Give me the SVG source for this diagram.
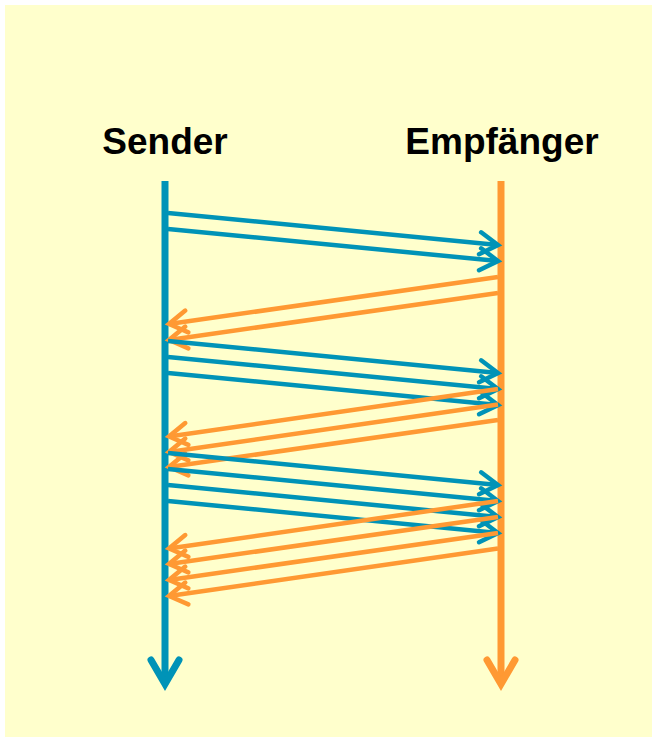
<svg xmlns="http://www.w3.org/2000/svg" width="652" height="737" viewBox="0 0 652 737">
<style>
.lbl{font-family:"Liberation Sans",Arial,sans-serif;font-weight:bold;font-size:37px;fill:#000;text-anchor:middle}
.b{stroke:#0093B7;stroke-width:4.5;fill:none}
.o{stroke:#FF9933;stroke-width:4.5;fill:none}
.ab{marker-end:url(#mb)}
.ao{marker-end:url(#mo)}
</style>
<defs>
<marker id="mb" markerUnits="userSpaceOnUse" orient="auto" viewBox="-30 -20 40 40" refX="0" refY="0" markerWidth="40" markerHeight="40" overflow="visible">
<path d="M-18,-11 L0,0 L-18,11" fill="none" stroke="#0093B7" stroke-width="4.5" stroke-linecap="round" stroke-linejoin="miter"/>
</marker>
<marker id="mo" markerUnits="userSpaceOnUse" orient="auto" viewBox="-30 -20 40 40" refX="0" refY="0" markerWidth="40" markerHeight="40" overflow="visible">
<path d="M-18,-11 L0,0 L-18,11" fill="none" stroke="#FF9933" stroke-width="4.5" stroke-linecap="round" stroke-linejoin="miter"/>
</marker>
</defs>
<rect x="5" y="5" width="647" height="732" fill="#FFFFCC"/>
<g id="sender">
<text class="lbl" x="165" y="154">Sender</text>
<line x1="165" y1="181" x2="165" y2="684" stroke="#0093B7" stroke-width="7"/>
<polyline points="151,660 165,684 179,660" fill="none" stroke="#0093B7" stroke-width="7" stroke-linecap="round" stroke-linejoin="miter"/>
</g>
<g id="empfaenger">
<text class="lbl" x="502" y="154">Empfänger</text>
<line x1="501" y1="181" x2="501" y2="684" stroke="#FF9933" stroke-width="7"/>
<polyline points="487,660 501,684 515,660" fill="none" stroke="#FF9933" stroke-width="7" stroke-linecap="round" stroke-linejoin="miter"/>
</g>
<g id="connectors">
<line class="b ab" x1="168" y1="213" x2="498" y2="245"/>
<line class="b ab" x1="168" y1="229" x2="498" y2="261"/>
<line class="o ao" x1="498" y1="277" x2="169" y2="324"/>
<line class="o ao" x1="498" y1="293" x2="169" y2="340"/>
<line class="b ab" x1="168" y1="341" x2="498" y2="373"/>
<line class="b ab" x1="168" y1="357" x2="498" y2="389"/>
<line class="b ab" x1="168" y1="373" x2="498" y2="405"/>
<line class="o ao" x1="498" y1="389" x2="169" y2="436.5"/>
<line class="o ao" x1="498" y1="404.5" x2="169" y2="452"/>
<line class="o ao" x1="498" y1="420" x2="169" y2="467"/>
<line class="b ab" x1="168" y1="453" x2="498" y2="485"/>
<line class="b ab" x1="168" y1="469" x2="498" y2="501"/>
<line class="b ab" x1="168" y1="485" x2="498" y2="517"/>
<line class="b ab" x1="168" y1="501" x2="498" y2="533"/>
<line class="o ao" x1="498" y1="501" x2="169" y2="548.5"/>
<line class="o ao" x1="498" y1="517" x2="169" y2="564"/>
<line class="o ao" x1="498" y1="533" x2="169" y2="580"/>
<line class="o ao" x1="498" y1="548.5" x2="169" y2="596"/>
</g>
</svg>
